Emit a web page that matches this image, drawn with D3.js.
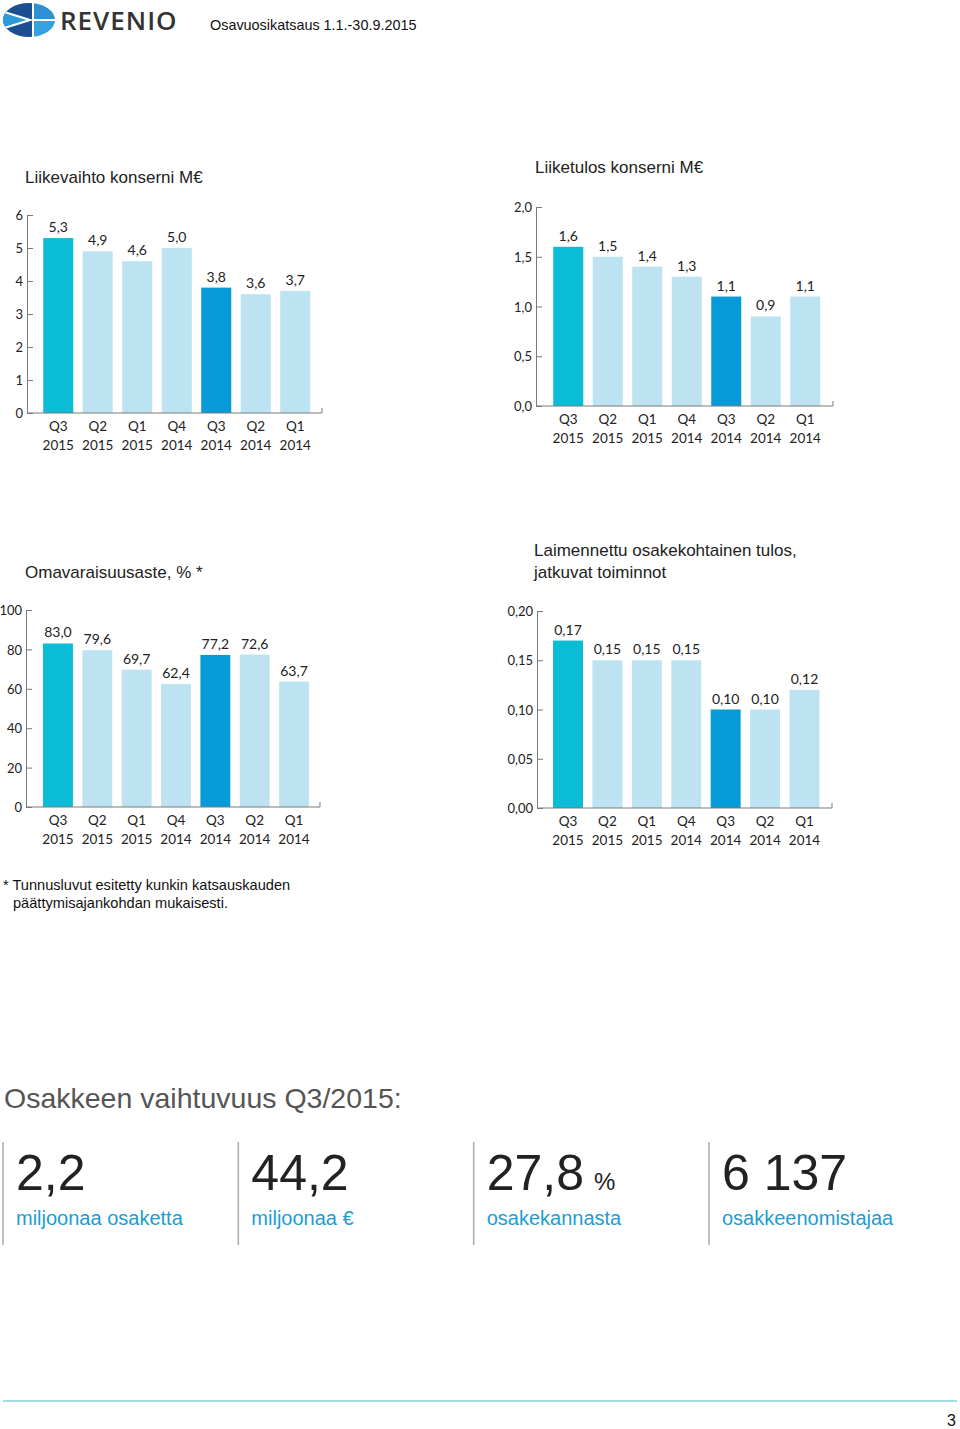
<!DOCTYPE html>
<html>
<head>
<meta charset="utf-8">
<script src="https://cdn.jsdelivr.net/npm/d3@7/dist/d3.min.js"></script>
<style>
  html, body { margin: 0; padding: 0; background: #fff; }
  svg { display: block; }
  .tick text { font-family: Lato, "Noto Sans", sans-serif; font-size: 13px; fill: #222; }
</style>
</head>
<body>
<svg id="page" width="960" height="1429"></svg>
<script>
// ---------------- DATA ----------------
const quarters = ["Q3", "Q2", "Q1", "Q4", "Q3", "Q2", "Q1"];
const years = ["2015", "2015", "2015", "2014", "2014", "2014", "2014"];

const revenue = [5.3, 4.9, 4.6, 5.0, 3.8, 3.6, 3.7];            // Liikevaihto konserni M€
const operatingProfit = [1.6, 1.5, 1.4, 1.3, 1.1, 0.9, 1.1];    // Liiketulos konserni M€
const equityRatio = [83.0, 79.6, 69.7, 62.4, 77.2, 72.6, 63.7]; // Omavaraisuusaste, % (labels)
const equityRatioDrawn = [83.0, 79.6, 69.7, 62.4, 77.2, 77.4, 63.7]; // bar heights as drawn in the source
const eps = [0.17, 0.15, 0.15, 0.15, 0.10, 0.10, 0.12];         // Laimennettu osakekohtainen tulos

const revenueTicks = [0, 1, 2, 3, 4, 5, 6];
const profitTicks = [0, 0.5, 1.0, 1.5, 2.0];
const equityTicks = [0, 20, 40, 60, 80, 100];
const epsTicks = [0, 0.05, 0.10, 0.15, 0.20];

const statValues = ["2,2", "44,2", "27,8", "6 137"];
const statUnits = ["", "", "%", ""];
const statLabels = ["miljoonaa osaketta", "miljoonaa €", "osakekannasta", "osakkeenomistajaa"];

// ---------------- STYLE ----------------
const TEAL = "#0abcd5", DARK = "#069bd8", LIGHT = "#bde3f3";
const AXIS = "#7a7a7a";
const barColor = i => i === 0 ? TEAL : (i === 4 ? DARK : LIGHT);
const fmtN = n => d => d.toFixed(n).replace(".", ",");

const svg = d3.select("#page");

// ---------------- HEADER ----------------
const logo = svg.append("g");
const defs = svg.append("defs");
defs.append("clipPath").attr("id", "logoClip")
  .append("ellipse").attr("cx", 29).attr("cy", 20).attr("rx", 26).attr("ry", 17);
const lg = logo.append("g").attr("clip-path", "url(#logoClip)");
lg.append("rect").attr("x", 0).attr("y", 0).attr("width", 32).attr("height", 40).attr("fill", "#1b4f91");
lg.append("rect").attr("x", 34).attr("y", 0).attr("width", 30).attr("height", 19).attr("fill", "#2e8fd5");
lg.append("rect").attr("x", 34).attr("y", 21).attr("width", 30).attr("height", 20).attr("fill", "#36a2e0");
lg.append("polygon").attr("points", "-2,10 30,20 -2,30")
  .attr("fill", "#2c9ad8").attr("stroke", "#fff").attr("stroke-width", 2.2);

svg.append("text").attr("x", 60).attr("y", 30)
  .attr("font-family", "'Open Sans', 'Noto Sans', sans-serif").attr("font-size", 26)
  .attr("font-weight", 600)
  .attr("letter-spacing", 1.0).attr("fill", "#333").text("REVENIO");

svg.append("text").attr("x", 210).attr("y", 30)
  .attr("font-family", "'Liberation Sans', Arial, sans-serif").attr("font-size", 14.4)
  .attr("fill", "#111").text("Osavuosikatsaus 1.1.-30.9.2015");

// ---------------- CHARTS ----------------
function titleText(x, y, lines) {
  const t = svg.append("text").attr("font-family", "'Liberation Sans', Arial, sans-serif")
    .attr("font-size", 17).attr("fill", "#222");
  lines.forEach((l, i) => t.append("tspan").attr("x", x).attr("y", y + i * 22).text(l));
}

function drawChart(cfg) {
  const g = svg.append("g");
  const y = d3.scaleLinear().domain(cfg.domain).range([cfg.y0, cfg.yTop]);
  const x = d3.scaleBand().domain(d3.range(cfg.values.length))
    .range(cfg.band).paddingInner(0.24).paddingOuter(0.12);

  // bars
  g.selectAll("rect.bar").data(cfg.heights).join("rect")
    .attr("class", "bar")
    .attr("x", (d, i) => x(i))
    .attr("width", x.bandwidth())
    .attr("y", d => y(d))
    .attr("height", d => y(0) - y(d))
    .attr("fill", (d, i) => barColor(i));

  // value labels
  g.selectAll("text.val").data(cfg.values).join("text")
    .attr("class", "val")
    .attr("x", (d, i) => x(i) + x.bandwidth() / 2)
    .attr("y", (d, i) => y(cfg.heights[i]) - 6)
    .attr("text-anchor", "middle")
    .attr("font-family", "Lato, 'Noto Sans', sans-serif").attr("font-size", 14)
    .attr("fill", "#222")
    .text(cfg.fmt);

  // y axis
  const ya = g.append("g").attr("transform", `translate(${cfg.axisX},0)`)
    .call(d3.axisLeft(y).tickValues(cfg.ticks).tickFormat(cfg.tickFmt)
      .tickSize(-6).tickSizeOuter(0).tickPadding(4));
  ya.select(".domain").attr("stroke", AXIS);
  ya.selectAll(".tick line").attr("stroke", AXIS);
  ya.selectAll(".tick text").attr("dy", "0.36em");

  // x axis line with end tick
  g.append("path")
    .attr("d", `M${cfg.axisX},${y(0)}H${cfg.endX}V${y(0) - 5}`)
    .attr("fill", "none").attr("stroke", AXIS).attr("stroke-width", 1);

  // category labels
  const cat = g.selectAll("text.cat").data(quarters).join("text")
    .attr("class", "cat")
    .attr("text-anchor", "middle")
    .attr("font-family", "Lato, 'Noto Sans', sans-serif").attr("font-size", 13.5)
    .attr("fill", "#222");
  cat.append("tspan").attr("x", (d, i) => x(i) + x.bandwidth() / 2).attr("y", y(0) + 18).text(d => d);
  cat.append("tspan").attr("x", (d, i) => x(i) + x.bandwidth() / 2).attr("y", y(0) + 37).text((d, i) => years[i]);
}

titleText(25, 183, ["Liikevaihto konserni M€"]);
drawChart({ values: revenue, heights: revenue, domain: [0, 6], ticks: revenueTicks,
  tickFmt: d => d, fmt: fmtN(1), axisX: 27, endX: 322, y0: 413, yTop: 215, band: [38.5, 315] });

titleText(535, 173, ["Liiketulos konserni M€"]);
drawChart({ values: operatingProfit, heights: operatingProfit, domain: [0, 2], ticks: profitTicks,
  tickFmt: fmtN(1), fmt: fmtN(1), axisX: 536, endX: 833, y0: 406, yTop: 207, band: [548.5, 825] });

titleText(25, 578, ["Omavaraisuusaste, % *"]);
drawChart({ values: equityRatio, heights: equityRatioDrawn, domain: [0, 100], ticks: equityTicks,
  tickFmt: d => d, fmt: fmtN(1), axisX: 26, endX: 320, y0: 807, yTop: 610, band: [38.3, 313.7] });

titleText(534, 556, ["Laimennettu osakekohtainen tulos,", "jatkuvat toiminnot"]);
drawChart({ values: eps, heights: eps, domain: [0, 0.2], ticks: epsTicks,
  tickFmt: fmtN(2), fmt: fmtN(2), axisX: 537, endX: 832, y0: 808, yTop: 611, band: [548.3, 824.2] });

// footnote
const fn = svg.append("text").attr("font-family", "'Liberation Sans', Arial, sans-serif")
  .attr("font-size", 14.6).attr("fill", "#111");
fn.append("tspan").attr("x", 3).attr("y", 890).text("* Tunnusluvut esitetty kunkin katsauskauden");
fn.append("tspan").attr("x", 13).attr("y", 908).text("päättymisajankohdan mukaisesti.");

// ---------------- STATS ----------------
svg.append("text").attr("x", 4).attr("y", 1108)
  .attr("font-family", "'Liberation Sans', Arial, sans-serif").attr("font-size", 28.5)
  .attr("fill", "#555").text("Osakkeen vaihtuvuus Q3/2015:");

const statX = d3.scalePoint().domain(d3.range(statValues.length)).range([3, 709]);
statValues.forEach((v, i) => {
  const x0 = statX(i);
  svg.append("line").attr("x1", x0).attr("x2", x0).attr("y1", 1142).attr("y2", 1245)
    .attr("stroke", "#aaa").attr("stroke-width", 1.5);
  const t = svg.append("text").attr("x", x0 + 13).attr("y", 1190)
    .attr("font-family", "'Liberation Sans', Arial, sans-serif").attr("fill", "#222");
  t.append("tspan").attr("font-size", 50).text(v);
  if (statUnits[i]) t.append("tspan").attr("font-size", 24).attr("dx", 10).text(statUnits[i]);
  svg.append("text").attr("x", x0 + 13).attr("y", 1225)
    .attr("font-family", "'Liberation Sans', Arial, sans-serif").attr("font-size", 20)
    .attr("fill", "#1c9dd0").text(statLabels[i]);
});

// ---------------- FOOTER ----------------
svg.append("line").attr("x1", 3).attr("x2", 957).attr("y1", 1401).attr("y2", 1401)
  .attr("stroke", "#4ab6d6").attr("stroke-width", 1.2);
svg.append("text").attr("x", 956).attr("y", 1426).attr("text-anchor", "end")
  .attr("font-family", "'Liberation Sans', Arial, sans-serif").attr("font-size", 16)
  .attr("fill", "#111").text("3");
</script>
</body>
</html>
